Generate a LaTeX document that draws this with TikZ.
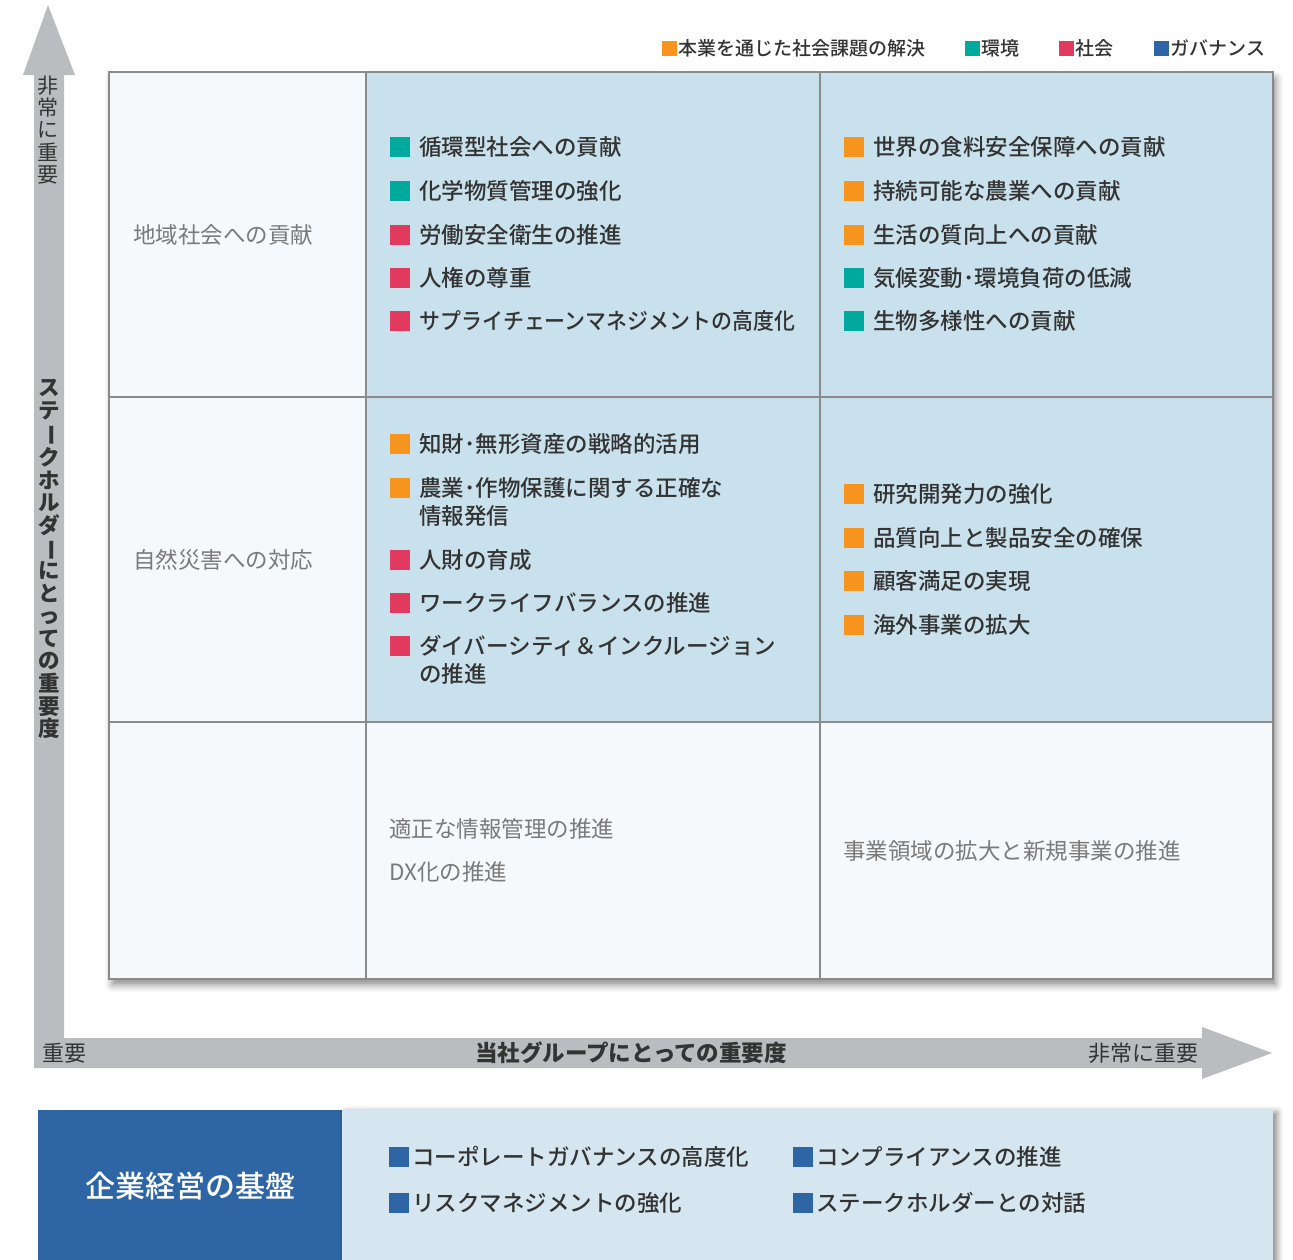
\documentclass[tikz,border=0pt]{standalone}
\usepackage{fontspec}
\usepackage{graphicx}
\setmainfont{Noto Sans CJK JP}
\newfontfamily\midweight{Noto Sans CJK JP Medium}
\usetikzlibrary{positioning,shadows.blur}
\definecolor{cellblue}{HTML}{C9E1EC}
\definecolor{cellpale}{HTML}{F5F9FC}
\definecolor{gridline}{HTML}{8A8A8A}
\definecolor{axisgray}{HTML}{BBBCC0}
\definecolor{ink}{HTML}{333333}
\definecolor{muted}{HTML}{7A7A7A}
\definecolor{bizorange}{HTML}{F7941D}
\definecolor{envteal}{HTML}{00A99D}
\definecolor{socred}{HTML}{E23A5F}
\definecolor{govblue}{HTML}{2E66A5}
\definecolor{panel}{HTML}{D5E6F0}

\begin{document}
\begin{tikzpicture}[x=1pt,y=-1pt,
    cell/.style={draw=gridline,line width=1.5pt},
    mark box/.style={fill=#1,minimum size=20pt,inner sep=0pt},
    legend box/.style={fill=#1,minimum size=15pt,inner sep=0pt},
    item/.style={inner sep=0pt,text=ink,align=left,font=\fontsize{22.5}{28.5}\selectfont\midweight},
    faint/.style={inner sep=0pt,text=muted,anchor=west,font=\fontsize{22.5}{27}\selectfont},
    legend text/.style={inner sep=0pt,text=ink,font=\fontsize{19}{22}\selectfont\midweight},
    axis text/.style={inner sep=0pt,text=ink,font=\fontsize{22}{22}\selectfont},
    vert text/.style={inner sep=0pt,text=ink,align=center,font=\fontsize{21}{22.3}\selectfont}]
    \useasboundingbox (0,0) rectangle (1293,1259);

    \fill[axisgray] (34,1068) -- (34,75) -- (23,75) -- (48,5) -- (75,75) -- (64,75) -- (64,1038)
        -- (1202,1038) -- (1202,1027) -- (1272,1053) -- (1202,1079) -- (1202,1068) -- cycle;
    \node[vert text] (yhigh) at (48,130) {非\\常\\に\\重\\要};
    \node[vert text,font=\fontsize{21.5}{22.6}\selectfont\bfseries] (ytitle) at (49,559)
        {ス\\テ\\\rotatebox[origin=c]{-90}{ー}\\ク\\ホ\\ル\\ダ\\\rotatebox[origin=c]{-90}{ー}\\に\\と\\っ\\て\\の\\重\\要\\度};
    \node[axis text,anchor=west] (xlow) at (42,1053) {重要};
    \node[axis text,font=\fontsize{22.5}{22}\selectfont\bfseries] (xtitle) at (631,1053) {当社グループにとっての重要度};
    \node[axis text,anchor=east] (xhigh) at (1199,1053) {非常に重要};

    \node[legend box=bizorange] (k1) at (669,48) {};
    \node[legend text,right=2pt of k1] (l1) {本業を通じた社会課題の解決};
    \node[legend box=envteal] (k2) at (972,48) {};
    \node[legend text,right=2pt of k2] (l2) {環境};
    \node[legend box=socred] (k3) at (1066,48) {};
    \node[legend text,right=2pt of k3] (l3) {社会};
    \node[legend box=govblue] (k4) at (1161,48) {};
    \node[legend text,right=2pt of k4] (l4) {ガバナンス};

    \fill[cellpale,blur shadow={shadow xshift=3pt,shadow yshift=-6pt,shadow blur radius=7pt,shadow opacity=45}]
        (109,72) rectangle (1273,979);
    \fill[cellblue] (366,72) rectangle (1273,722);
    \draw[cell] (109,72) rectangle (1273,979);
    \draw[cell] (366,72) -- (366,979) (820,72) -- (820,979) (109,397) -- (1273,397) (109,722) -- (1273,722);

    \node[faint] (r1) at (133,235) {地域社会への貢献};
    \node[faint] (r2) at (133,560) {自然災害への対応};
    \node[faint] (b1) at (389,829) {適正な情報管理の推進};
    \node[faint] (b2) at (389,872) {DX化の推進};
    \node[faint] (b3) at (843,851) {事業領域の拡大と新規事業の推進};

    \node[mark box=envteal] (sa1) at (400,147) {};
    \node[item,right=9pt of sa1] (a1) {循環型社会への貢献};
    \node[mark box=envteal] (sa2) at (400,191) {};
    \node[item,right=9pt of sa2] (a2) {化学物質管理の強化};
    \node[mark box=socred] (sa3) at (400,235) {};
    \node[item,right=9pt of sa3] (a3) {労働安全衛生の推進};
    \node[mark box=socred] (sa4) at (400,278) {};
    \node[item,right=9pt of sa4] (a4) {人権の尊重};
    \node[mark box=socred] (sa5) at (400,321) {};
    \node[item,right=9pt of sa5] (a5) {\scalebox{0.93}[1]{サプライチェーンマネジメントの高度化}};

    \node[mark box=bizorange] (sc1) at (854,147) {};
    \node[item,right=9pt of sc1] (c1) {世界の食料安全保障への貢献};
    \node[mark box=bizorange] (sc2) at (854,191) {};
    \node[item,right=9pt of sc2] (c2) {持続可能な農業への貢献};
    \node[mark box=bizorange] (sc3) at (854,235) {};
    \node[item,right=9pt of sc3] (c3) {生活の質向上への貢献};
    \node[mark box=envteal] (sc4) at (854,278) {};
    \node[item,right=9pt of sc4] (c4) {気候変動･環境負荷の低減};
    \node[mark box=envteal] (sc5) at (854,321) {};
    \node[item,right=9pt of sc5] (c5) {生物多様性への貢献};

    \node[mark box=bizorange] (sd1) at (400,444) {};
    \node[item,right=9pt of sd1] (d1) {知財･無形資産の戦略的活用};
    \node[mark box=bizorange] (sd2) at (400,488) {};
    \node[item,right=9pt of sd2,yshift=-14pt] (d2) {農業･作物保護に関する正確な\\情報発信};
    \node[mark box=socred] (sd3) at (400,560) {};
    \node[item,right=9pt of sd3] (d3) {人財の育成};
    \node[mark box=socred] (sd4) at (400,603) {};
    \node[item,right=9pt of sd4] (d4) {ワークライフバランスの推進};
    \node[mark box=socred] (sd5) at (400,646) {};
    \node[item,right=9pt of sd5,yshift=-14pt] (d5) {ダイバーシティ＆インクルージョン\\の推進};

    \node[mark box=bizorange] (se1) at (854,494) {};
    \node[item,right=9pt of se1] (e1) {研究開発力の強化};
    \node[mark box=bizorange] (se2) at (854,538) {};
    \node[item,right=9pt of se2] (e2) {品質向上と製品安全の確保};
    \node[mark box=bizorange] (se3) at (854,581) {};
    \node[item,right=9pt of se3] (e3) {顧客満足の実現};
    \node[mark box=bizorange] (se4) at (854,625) {};
    \node[item,right=9pt of se4] (e4) {海外事業の拡大};

    \node[fill=govblue,minimum width=304pt,minimum height=152pt,inner sep=0pt,text=white,
        font=\fontsize{30}{30}\selectfont\midweight] (base) at (190,1186) {企業経営の基盤};
    \node[fill=panel,minimum width=931pt,minimum height=152pt,inner sep=0pt,anchor=west,
        blur shadow={shadow xshift=4pt,shadow yshift=-2pt,shadow blur radius=6pt,shadow opacity=45}] (found) at (base.east) {};
    \node[mark box=govblue] (sg1) at (399,1157) {};
    \node[item,right=3pt of sg1] (g1) {コーポレートガバナンスの高度化};
    \node[mark box=govblue] (sg2) at (399,1203) {};
    \node[item,right=3pt of sg2] (g2) {リスクマネジメントの強化};
    \node[mark box=govblue] (sg3) at (803,1157) {};
    \node[item,right=3pt of sg3] (g3) {コンプライアンスの推進};
    \node[mark box=govblue] (sg4) at (803,1203) {};
    \node[item,right=3pt of sg4] (g4) {ステークホルダーとの対話};
\end{tikzpicture}
\end{document}
